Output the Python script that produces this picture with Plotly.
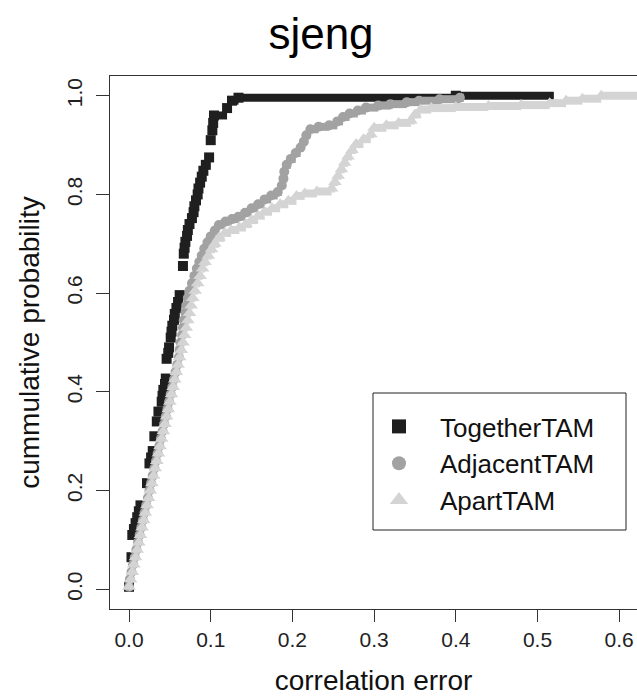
import plotly.graph_objects as go

# ---------------- data ----------------
series_names = ["TogetherTAM", "AdjacentTAM", "ApartTAM"]

together_x = [0.000, 0.003, 0.004, 0.006, 0.008, 0.010, 0.012, 0.014, 0.022, 0.025,
              0.027, 0.029, 0.031, 0.034, 0.036, 0.040, 0.041, 0.042, 0.044, 0.045,
              0.046, 0.048, 0.049, 0.051, 0.052, 0.053, 0.055, 0.056, 0.058, 0.060,
              0.062, 0.066, 0.067, 0.068, 0.069, 0.071, 0.072, 0.074, 0.077, 0.079,
              0.080, 0.082, 0.084, 0.085, 0.087, 0.089, 0.091, 0.094, 0.098, 0.100,
              0.102, 0.103, 0.104, 0.120, 0.126, 0.134, 0.400]
together_y = [0.005, 0.065, 0.110, 0.122, 0.134, 0.146, 0.158, 0.170, 0.215, 0.255,
              0.267, 0.280, 0.310, 0.340, 0.360, 0.380, 0.392, 0.404, 0.416, 0.427,
              0.467, 0.479, 0.490, 0.510, 0.522, 0.534, 0.546, 0.558, 0.570, 0.582,
              0.596, 0.655, 0.680, 0.692, 0.704, 0.716, 0.728, 0.740, 0.752, 0.764,
              0.776, 0.788, 0.800, 0.812, 0.824, 0.836, 0.848, 0.860, 0.875, 0.910,
              0.930, 0.945, 0.960, 0.975, 0.990, 0.996, 1.000]
together_end = 0.52

adjacent_x = [0.000, 0.001, 0.003, 0.005, 0.007, 0.009, 0.011, 0.013, 0.015, 0.017,
              0.019, 0.021, 0.023, 0.025, 0.027, 0.029, 0.031, 0.033, 0.035, 0.037,
              0.039, 0.041, 0.043, 0.045, 0.047, 0.049, 0.051, 0.053, 0.055, 0.057,
              0.059, 0.061, 0.062, 0.063, 0.065, 0.066, 0.067, 0.069, 0.070, 0.072,
              0.074, 0.077, 0.080, 0.083, 0.086, 0.089, 0.092, 0.096, 0.100, 0.105,
              0.110, 0.118, 0.126, 0.134, 0.142, 0.150, 0.158, 0.166, 0.174, 0.182,
              0.187, 0.189, 0.190, 0.193, 0.198, 0.204, 0.210, 0.214, 0.217, 0.222,
              0.232, 0.245, 0.255, 0.262, 0.270, 0.280, 0.290, 0.305, 0.320, 0.340,
              0.355, 0.380, 0.405]
adjacent_y = [0.005, 0.020, 0.035, 0.050, 0.065, 0.080, 0.095, 0.110, 0.125, 0.140,
              0.155, 0.170, 0.185, 0.200, 0.215, 0.230, 0.245, 0.260, 0.275, 0.290,
              0.305, 0.320, 0.335, 0.350, 0.365, 0.380, 0.395, 0.410, 0.425, 0.440,
              0.455, 0.470, 0.485, 0.500, 0.515, 0.530, 0.545, 0.560, 0.575, 0.590,
              0.605, 0.620, 0.635, 0.650, 0.663, 0.676, 0.690, 0.703, 0.715, 0.727,
              0.738, 0.745, 0.750, 0.755, 0.763, 0.772, 0.780, 0.790, 0.798, 0.805,
              0.818, 0.832, 0.846, 0.860, 0.872, 0.884, 0.895, 0.907, 0.920, 0.932,
              0.937, 0.940, 0.948, 0.957, 0.964, 0.970, 0.976, 0.980, 0.983, 0.987,
              0.990, 0.993, 0.996]
adjacent_end = 0.41

apart_x = [0.000, 0.002, 0.004, 0.006, 0.008, 0.010, 0.012, 0.014, 0.016, 0.018,
           0.020, 0.022, 0.024, 0.026, 0.028, 0.030, 0.032, 0.034, 0.036, 0.038,
           0.040, 0.042, 0.044, 0.046, 0.048, 0.050, 0.052, 0.054, 0.056, 0.058,
           0.060, 0.062, 0.064, 0.066, 0.068, 0.070, 0.072, 0.074, 0.076, 0.078,
           0.081, 0.084, 0.087, 0.090, 0.093, 0.097, 0.101, 0.105, 0.110, 0.117,
           0.125, 0.135, 0.143, 0.150, 0.158, 0.166, 0.175, 0.185, 0.195, 0.205,
           0.215, 0.230, 0.248, 0.252, 0.256, 0.260, 0.264, 0.268, 0.273, 0.278,
           0.287, 0.296, 0.300, 0.315, 0.330, 0.345, 0.350, 0.357, 0.370, 0.400,
           0.440, 0.480, 0.515, 0.535, 0.555, 0.578]
apart_y = [0.005, 0.020, 0.035, 0.050, 0.065, 0.080, 0.095, 0.110, 0.125, 0.140,
           0.155, 0.170, 0.185, 0.200, 0.215, 0.230, 0.245, 0.260, 0.275, 0.290,
           0.305, 0.320, 0.335, 0.350, 0.365, 0.380, 0.395, 0.410, 0.425, 0.440,
           0.455, 0.470, 0.485, 0.500, 0.515, 0.530, 0.545, 0.560, 0.575, 0.590,
           0.605, 0.620, 0.635, 0.650, 0.663, 0.676, 0.689, 0.700, 0.712, 0.722,
           0.728, 0.733, 0.740, 0.748, 0.757, 0.765, 0.772, 0.780, 0.787, 0.797,
           0.802, 0.806, 0.812, 0.825, 0.838, 0.851, 0.864, 0.877, 0.890, 0.902,
           0.912, 0.922, 0.935, 0.940, 0.945, 0.950, 0.962, 0.972, 0.975, 0.977,
           0.979, 0.981, 0.985, 0.990, 0.994, 1.000]
apart_end = 0.65

x_ticks = [0.0, 0.1, 0.2, 0.3, 0.4, 0.5, 0.6]
y_ticks = [0.0, 0.2, 0.4, 0.6, 0.8, 1.0]

# ---------------- styling ----------------
colors = ["#1f1f1f", "#a2a2a2", "#d4d4d4"]
symbols = ["square", "circle", "triangle-up"]
msizes = [10, 10, 12]
lwidths = [8, 8, 8]
FONT = "Liberation Sans, Arial, sans-serif"

W, H = 637, 699
L, R, T, B = 110, 0, 76, 90
PW, PH = W - L - R, H - T - B


def px_to_paper_x(px):
    return (px - L) / PW


def px_to_paper_y(py):
    return (H - B - py) / PH


def step_segments(xs, ys, x_end):
    sx, sy = [], []
    for i in range(len(xs)):
        nx = xs[i + 1] if i + 1 < len(xs) else x_end
        sx += [xs[i], nx, None]
        sy += [ys[i], ys[i], None]
    return sx, sy


fig = go.Figure()
data = [(together_x, together_y, together_end),
        (adjacent_x, adjacent_y, adjacent_end),
        (apart_x, apart_y, apart_end)]

for k, (xs, ys, xe) in enumerate(data):
    sx, sy = step_segments(xs, ys, xe)
    fig.add_trace(go.Scatter(x=sx, y=sy, mode="lines",
                             line=dict(color=colors[k], width=lwidths[k]),
                             showlegend=False, hoverinfo="skip"))
    fig.add_trace(go.Scatter(x=xs, y=ys, mode="markers",
                             marker=dict(symbol=symbols[k], size=msizes[k],
                                         color=colors[k], line=dict(width=0)),
                             showlegend=False, name=series_names[k]))

# legend-only entries
for k in range(3):
    fig.add_trace(go.Scatter(x=[None], y=[None], mode="markers", name=series_names[k],
                             marker=dict(symbol=symbols[k], size=14 if k < 2 else 16,
                                         color=colors[k], line=dict(width=0)),
                             showlegend=True))

# legend box
fig.add_shape(type="rect", xref="paper", yref="paper",
              x0=px_to_paper_x(373), x1=px_to_paper_x(626),
              y0=px_to_paper_y(530), y1=px_to_paper_y(393),
              line=dict(color="#222222", width=1), fillcolor="white", layer="below")

fig.update_layout(
    width=W, height=H,
    margin=dict(l=L, r=R, t=T, b=B),
    paper_bgcolor="white", plot_bgcolor="white",
    font=dict(family=FONT, color="#111111"),
    title=dict(text="sjeng", x=321 / W, xref="container", xanchor="center",
               y=1 - 34 / H, yref="container", yanchor="middle",
               font=dict(size=44, family=FONT, color="#000000")),
    legend=dict(x=px_to_paper_x(358), y=px_to_paper_y(403), xanchor="left", yanchor="top",
                bgcolor="rgba(0,0,0,0)", borderwidth=0, itemwidth=72,
                font=dict(size=26, family=FONT, color="#111111"),
                tracegroupgap=0),
    xaxis=dict(range=[-0.0233, 0.6218], tickvals=x_ticks, tickformat=".1f",
               showgrid=False, zeroline=False,
               showline=True, linecolor="#333333", linewidth=1, mirror=True,
               ticks="outside", ticklen=12, tickwidth=1, tickcolor="#333333",
               tickfont=dict(size=21, family=FONT, color="#222222"),
               title=dict(text="correlation error", standoff=20,
                          font=dict(size=28, family=FONT, color="#111111"))),
    yaxis=dict(range=[-0.04, 1.04], tickvals=y_ticks, tickformat=".1f",
               showgrid=False, zeroline=False,
               showline=True, linecolor="#333333", linewidth=1, mirror=False,
               ticks="outside", ticklen=13, tickwidth=1, tickcolor="#333333",
               tickangle=-90, ticklabelstandoff=6,
               tickfont=dict(size=21, family=FONT, color="#222222"),
               title=dict(text="cummulative probability", standoff=14,
                          font=dict(size=28, family=FONT, color="#111111"))),
)

fig.write_html("out.html")
